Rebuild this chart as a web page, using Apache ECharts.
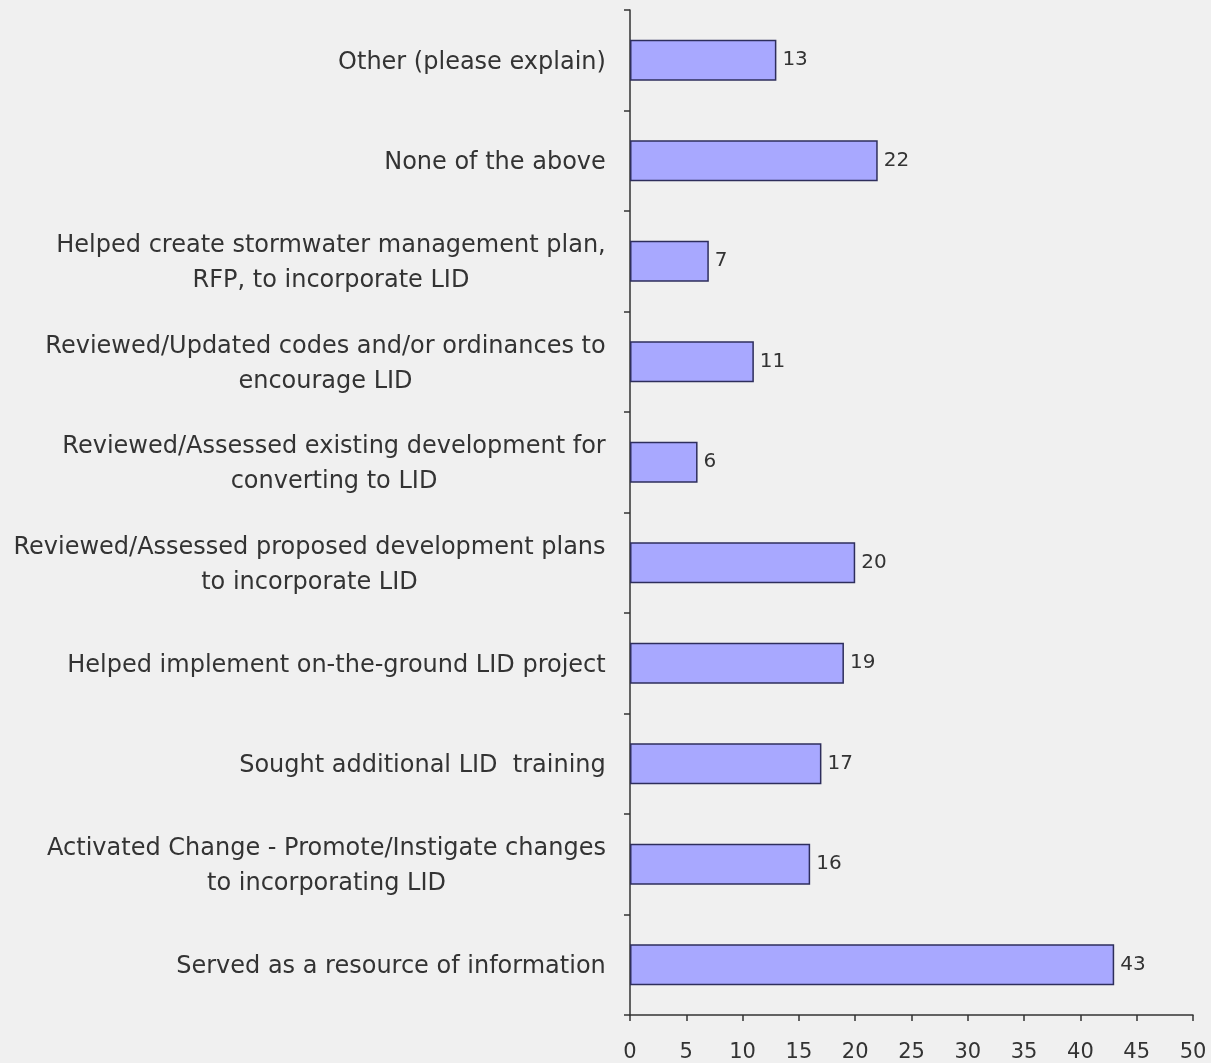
<!DOCTYPE html>
<html>
<head>
<meta charset="utf-8">
<script src="https://cdn.jsdelivr.net/npm/echarts@6/dist/echarts.min.js"></script>
<style>
  html, body { margin: 0; padding: 0; background: #f0f0f0; }
  #chart { width: 1211px; height: 1063px; }
</style>
</head>
<body>
<div id="chart"></div>
<script>
// categories listed top to bottom
const categories = [
  'Other (please explain)',
  'None of the above',
  'Helped create stormwater management plan,\nRFP, to incorporate LID',
  'Reviewed/Updated codes and/or ordinances to\nencourage LID',
  'Reviewed/Assessed existing development for\nconverting to LID',
  'Reviewed/Assessed proposed development plans\nto incorporate LID',
  'Helped implement on-the-ground LID project',
  'Sought additional LID  training',
  'Activated Change - Promote/Instigate changes\nto incorporating LID',
  'Served as a resource of information'
];
const counts = [13, 22, 7, 11, 6, 20, 19, 17, 16, 43];
const xTicks = [0, 5, 10, 15, 20, 25, 30, 35, 40, 45, 50];

const labelFont = '"DejaVu Sans", Verdana, sans-serif';
const labelSize = 24;

// measure each label so multi-line labels can be centred within their block
const ctx = document.createElement('canvas').getContext('2d');
ctx.font = labelSize + 'px ' + labelFont;
const rich = {};
categories.forEach((c, i) => {
  const w = Math.max(...c.split('\n').map(s => ctx.measureText(s).width));
  rich['c' + i] = { width: Math.ceil(w), align: 'center', fontSize: labelSize, fontFamily: labelFont, color: '#333', lineHeight: 35, padding: [5, 0, 0, 0] };
});

const chart = echarts.init(document.getElementById('chart'));

chart.setOption({
  backgroundColor: '#f0f0f0',
  animation: false,
  grid: { left: 630, right: 18, top: 10, bottom: 48, containLabel: false },
  xAxis: {
    type: 'value',
    min: 0,
    max: 50,
    interval: 5,
    axisLine: { show: true, lineStyle: { color: '#333', width: 1.5 } },
    axisTick: { show: true, length: 6, lineStyle: { color: '#333', width: 1.5 } },
    axisLabel: {
      margin: 27,
      color: '#333',
      fontSize: 21,
      fontFamily: labelFont,
      formatter: v => xTicks.includes(v) ? String(v) : ''
    },
    splitLine: { show: false }
  },
  yAxis: {
    type: 'category',
    inverse: true,
    data: categories,
    axisLine: { show: true, lineStyle: { color: '#333', width: 1.5 } },
    axisTick: { show: true, length: 6, lineStyle: { color: '#333', width: 1.5 } },
    axisLabel: {
      margin: 24,
      align: 'right',
      fontSize: labelSize,
      fontFamily: labelFont,
      color: '#333',
      formatter: (v, i) => v.split('\n').map(s => '{c' + i + '|' + s + '}').join('\n'),
      rich: rich
    }
  },
  series: [
    {
      type: 'bar',
      data: counts,
      barWidth: 41,
      itemStyle: { color: '#a8a8ff', borderColor: '#2e2e5c', borderWidth: 1.5 },
      label: {
        show: true,
        position: 'right',
        distance: 6,
        color: '#333',
        fontSize: 20,
        fontFamily: labelFont
      }
    }
  ]
});
</script>
</body>
</html>
